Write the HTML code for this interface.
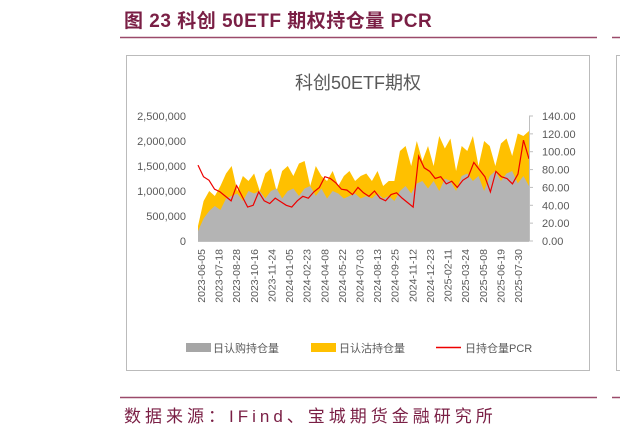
<!DOCTYPE html>
<html><head><meta charset="utf-8"><style>
body{margin:0;width:620px;height:436px;background:#fff;overflow:hidden;font-family:"Liberation Sans","Noto Sans CJK SC",sans-serif}
svg{position:absolute;left:0;top:0}
</style></head><body>
<svg id="s" width="620" height="436">
<text x="124" y="27" font-size="19" font-weight="bold" letter-spacing="0.5" fill="#7a1f45" font-family="Liberation Sans,Noto Sans CJK SC,sans-serif">图 23 科创 50ETF 期权持仓量 PCR</text>
<line x1="120" y1="37.5" x2="597" y2="37.5" stroke="#9b4a6a" stroke-width="1.5"/>
<line x1="612" y1="37.5" x2="620" y2="37.5" stroke="#9b4a6a" stroke-width="1.5"/>
<rect x="126.5" y="55.5" width="463" height="315" fill="#fff" stroke="#bbb"/>
<rect x="616.5" y="55.5" width="10" height="315" fill="#fff" stroke="#bbb"/>
<text x="358" y="89" font-size="18" fill="#595959" text-anchor="middle">科创50ETF期权</text>
<g id="plot"></g>
<g id="legend">
<rect x="186" y="343" width="25" height="9" fill="#a6a6a6"/>
<text x="213" y="352" font-size="11" fill="#595959">日认购持仓量</text>
<rect x="311" y="343" width="25" height="9" fill="#ffc000"/>
<text x="339" y="352" font-size="11" fill="#595959">日认沽持仓量</text>
<line x1="436" y1="347.5" x2="461" y2="347.5" stroke="#e00" stroke-width="1.5"/>
<text x="465" y="352" font-size="11" fill="#595959">日持仓量PCR</text>
</g>
<line x1="120" y1="397.5" x2="597" y2="397.5" stroke="#9b4a6a" stroke-width="1.5"/>
<line x1="612" y1="397.5" x2="620" y2="397.5" stroke="#9b4a6a" stroke-width="1.5"/>
<text x="124" y="422" font-size="17" letter-spacing="4" fill="#7a1f45">数据来源：IFind、宝城期货金融研究所</text>
</svg>
<script>
const dates=["2023-06-05","2023-07-18","2023-08-28","2023-10-16","2023-11-24","2024-01-05","2024-02-23","2024-04-08","2024-05-22","2024-07-03","2024-08-13","2024-09-25","2024-11-12","2024-12-23","2025-02-11","2025-03-24","2025-05-08","2025-06-19","2025-07-30"];
const leftTicks=[0,500000,1000000,1500000,2000000,2500000];
const rightTicks=[0,20,40,60,80,100,120,140];
const callOI=[0.2,0.45,0.6,0.7,0.62,0.85,0.9,0.95,0.8,1.0,0.95,1.0,0.85,1.0,1.05,0.85,1.0,1.05,0.9,1.05,1.1,0.9,1.05,0.85,1.0,0.95,0.85,0.9,0.95,0.85,0.9,0.85,0.95,0.85,0.9,0.8,1.0,1.1,0.95,1.15,1.2,1.05,1.2,1.0,1.25,1.2,1.0,1.3,1.35,1.2,1.3,1.0,1.3,1.4,1.2,1.35,1.4,1.15,1.3,1.1];
const putOI=[0.3,0.8,1.0,0.9,1.1,1.35,1.5,1.0,1.3,1.2,1.35,1.0,1.35,1.45,1.0,1.4,1.5,1.3,1.55,1.6,1.1,1.5,1.3,1.2,1.4,1.1,1.3,1.4,1.2,1.3,1.35,1.2,1.4,1.1,1.2,1.2,1.8,1.9,1.5,2.0,1.6,1.9,1.5,2.1,1.85,2.05,1.4,1.9,1.8,2.1,1.5,2.0,1.9,1.5,1.95,2.05,1.7,2.15,2.1,2.2];
const pcr=[85,72,68,58,55,50,45,62,50,38,40,55,45,42,48,44,40,38,45,50,48,55,60,72,70,65,58,57,52,60,54,50,56,48,45,52,54,48,43,38,95,82,78,70,72,64,67,60,68,72,88,80,72,55,78,72,70,64,75,113,92];
const X0=198,X1=529,Y0=241,Y1=116,NS="http://www.w3.org/2000/svg";
const xs=(i,n)=>X0+(X1-X0)*i/(n-1);
const yl=v=>Y0-(Y0-Y1)*v/2500000;
const yr=v=>Y0-(Y0-Y1)*v/140;
const g=document.getElementById('plot');
function mk(t,a){const e=document.createElementNS(NS,t);for(const k in a)e.setAttribute(k,a[k]);g.appendChild(e);return e;}
function area(arr,col,name){let d=`M${X0},${Y0}`;arr.forEach((v,i)=>d+=`L${xs(i,arr.length)},${yl(v*1e6)}`);d+=`L${X1},${Y0}Z`;const p=mk('path',{d:d,fill:col});

}
area(putOI,'#ffc000','put-area');
area(callOI,'#b4b4b4','call-area');
let d='';pcr.forEach((v,i)=>d+=(i?'L':'M')+xs(i,pcr.length)+','+yr(v));
const ln=mk('path',{d:d,fill:'none',stroke:'#ee0000','stroke-width':1.2});


mk('line',{x1:X0,y1:Y0+.5,x2:X1,y2:Y0+.5,stroke:'#bfbfbf'});
mk('line',{x1:X1+.5,y1:Y1,x2:X1+.5,y2:Y0,stroke:'#bfbfbf'});
leftTicks.forEach(v=>{const t=mk('text',{x:186,y:yl(v)+4,'font-size':11,fill:'#595959','text-anchor':'end'});t.textContent=v.toLocaleString('en-US');

});
rightTicks.forEach(v=>{mk('line',{x1:X1,y1:yr(v),x2:X1+4,y2:yr(v),stroke:'#bfbfbf'});const t=mk('text',{x:542,y:yr(v)+4,'font-size':11,fill:'#595959'});t.textContent=v.toFixed(2);

});
dates.forEach((s,i)=>{const x=201+(518-201)*i/(dates.length-1);const t=mk('text',{x:0,y:0,'font-size':10.5,fill:'#595959','text-anchor':'end',transform:`translate(${x+4},249) rotate(-90)`});t.textContent=s;

});
</script>
</body></html>
